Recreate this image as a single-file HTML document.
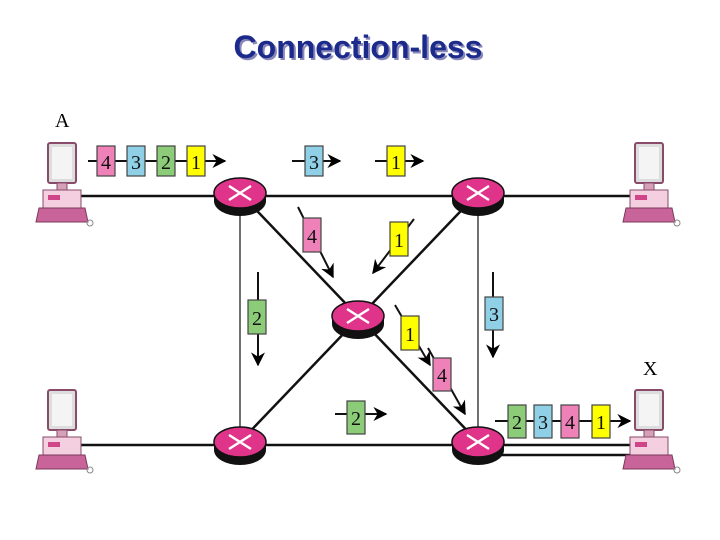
<!DOCTYPE html>
<html><head><meta charset="utf-8"><style>
body{margin:0;background:#fff;}
svg{display:block}
</style></head><body>
<svg width="720" height="540" viewBox="0 0 720 540" xmlns="http://www.w3.org/2000/svg" font-family="Liberation Serif, serif">
<defs>
<marker id="ah" viewBox="0 0 10 10" refX="9" refY="5" markerWidth="7" markerHeight="7" orient="auto"><path d="M0,0 L10,5 L0,10 L3,5 z" fill="#000"/></marker>
<g id="host">
<rect x="10" y="0" width="28" height="40" rx="2" fill="#ddd" stroke="#8a4a6a" stroke-width="2"/>
<rect x="14" y="4" width="20" height="32" fill="#f4f4f4"/>
<rect x="19" y="40" width="10" height="7" fill="#d6a0b8" stroke="#8a4a6a"/>
<rect x="5" y="47" width="38" height="18" fill="#f3cfe0" stroke="#8a4a6a"/>
<rect x="10" y="52" width="12" height="5" fill="#d0458a"/>
<path d="M1,65 L47,65 L50,79 L-2,79 z" fill="#c8649a" stroke="#7a3a5a"/>
<circle cx="52" cy="80" r="3" fill="none" stroke="#888"/>
</g>
<g id="router">
<ellipse cx="0" cy="8" rx="26" ry="15" fill="#111"/>
<rect x="-26" y="0" width="52" height="8" fill="#111"/>
<ellipse cx="0" cy="0" rx="26" ry="15" fill="#e0338a" stroke="#111" stroke-width="1.5"/>
<path d="M-11,-7 L11,7 M-11,7 L11,-7" stroke="#fff" stroke-width="2.5"/>
</g>
</defs>
<text x="360" y="60" text-anchor="middle" font-family="Liberation Sans, sans-serif" font-weight="bold" font-size="32" fill="#8888b8">Connection-less</text>
<text x="358" y="58" text-anchor="middle" font-family="Liberation Sans, sans-serif" font-weight="bold" font-size="32" fill="#1c2a8c">Connection-less</text>

<!-- links -->
<g stroke="#111" stroke-width="2.5" fill="none">
<line x1="80" y1="196" x2="630" y2="196"/>
<line x1="80" y1="445" x2="630" y2="445"/>
<line x1="478" y1="455" x2="630" y2="455" />
<line x1="240" y1="193" x2="478" y2="442"/>
<line x1="478" y1="193" x2="240" y2="442"/>
</g>
<g stroke="#111" stroke-width="1.2">
<line x1="240" y1="200" x2="240" y2="440"/>
<line x1="478" y1="200" x2="478" y2="440"/>
</g>

<use href="#router" x="240" y="193"/>
<use href="#router" x="478" y="193"/>
<use href="#router" x="358" y="316"/>
<use href="#router" x="240" y="442"/>
<use href="#router" x="478" y="442"/>

<use href="#host" x="38" y="143"/>
<use href="#host" x="625" y="143"/>
<use href="#host" x="38" y="390"/>
<use href="#host" x="625" y="390"/>
<text x="55" y="127" font-size="20">A</text>
<text x="643" y="375" font-size="20">X</text>

<!-- arrows -->
<g stroke="#111" stroke-width="2" fill="none" marker-end="url(#ah)">
<line x1="88" y1="161" x2="225" y2="161"/>
<line x1="292" y1="161" x2="340" y2="161"/>
<line x1="375" y1="161" x2="423" y2="161"/>
<line x1="298" y1="207" x2="333" y2="277"/>
<line x1="414" y1="219" x2="373" y2="273"/>
<line x1="258" y1="272" x2="258" y2="365"/>
<line x1="493" y1="272" x2="493" y2="357"/>
<line x1="395" y1="305" x2="430" y2="365"/>
<line x1="428" y1="348" x2="465" y2="414"/>
<line x1="335" y1="414" x2="386" y2="414"/>
<line x1="495" y1="421" x2="630" y2="421"/>
</g>

<!-- packets -->
<g stroke="#444" stroke-width="1.2" font-size="20" text-anchor="middle">
<rect x="97" y="146" width="18" height="30" fill="#ee82b8"/>
<rect x="127" y="146" width="18" height="30" fill="#8fd0e6"/>
<rect x="157" y="146" width="18" height="30" fill="#8ccc78"/>
<rect x="187" y="146" width="18" height="30" fill="#ffff00"/>
<rect x="305" y="146" width="18" height="30" fill="#8fd0e6"/>
<rect x="387" y="146" width="18" height="30" fill="#ffff00"/>
<rect x="303" y="218" width="18" height="34" fill="#ee82b8"/>
<rect x="390" y="222" width="18" height="34" fill="#ffff00"/>
<rect x="248" y="300" width="18" height="34" fill="#8ccc78"/>
<rect x="485" y="297" width="18" height="33" fill="#8fd0e6"/>
<rect x="401" y="316" width="18" height="34" fill="#ffff00"/>
<rect x="433" y="358" width="18" height="33" fill="#ee82b8"/>
<rect x="347" y="401" width="18" height="33" fill="#8ccc78"/>
<rect x="508" y="405" width="18" height="33" fill="#8ccc78"/>
<rect x="534" y="405" width="18" height="33" fill="#8fd0e6"/>
<rect x="561" y="405" width="18" height="33" fill="#ee82b8"/>
<rect x="592" y="405" width="18" height="33" fill="#ffff00"/>
</g>
<g font-size="20" text-anchor="middle" fill="#111">
<text x="106" y="169">4</text><text x="136" y="169">3</text><text x="166" y="169">2</text><text x="196" y="169">1</text>
<text x="314" y="169">3</text><text x="396" y="169">1</text>
<text x="312" y="243">4</text><text x="399" y="247">1</text>
<text x="257" y="325">2</text><text x="494" y="321">3</text>
<text x="410" y="341">1</text><text x="442" y="382">4</text>
<text x="356" y="425">2</text>
<text x="517" y="429">2</text><text x="543" y="429">3</text><text x="570" y="429">4</text><text x="601" y="429">1</text>
</g>
</svg>
</body></html>
